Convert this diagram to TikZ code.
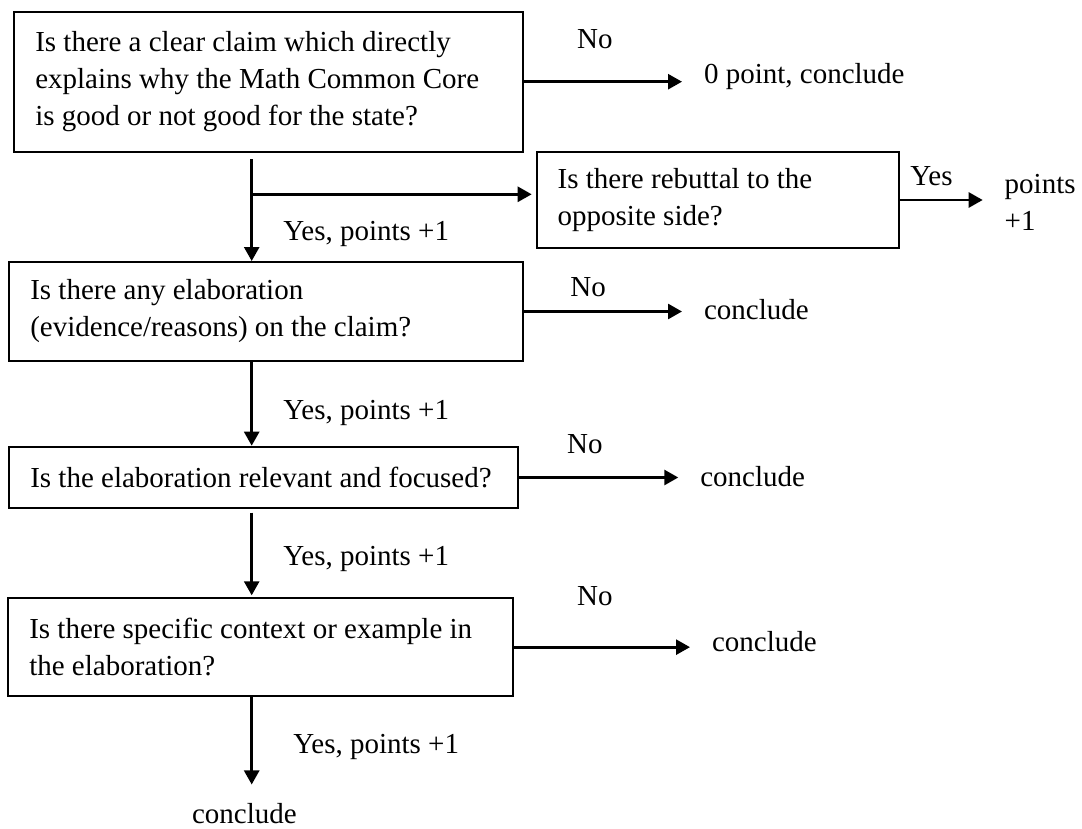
\documentclass[tikz,border=0pt]{standalone}
\usepackage{fontspec}
\setmainfont{Liberation Serif}
\usetikzlibrary{arrows.meta}

\tikzset{
  qbox/.style={draw, line width=1pt, anchor=north west, align=flush left,
    inner xsep=10.5pt, inner ysep=0pt},
  txt/.style={inner sep=0pt, anchor=base west},
  dest/.style={txt, outer xsep=11pt},
  arr/.style={line width=1.35pt, -{Triangle[length=7pt,width=7.5pt]}}
}

\begin{document}
\begin{tikzpicture}[x=0.5pt,y=-0.5pt,font=\fontsize{14.5pt}{18.5pt}\selectfont]
        \useasboundingbox (0,0) rectangle (1082,829) ;
        % the questions
        \node[qbox,text width=233.2pt,minimum height=70pt] (claim) at (13.3,10.7)
          {Is there a clear claim which directly\\explains why the Math Common Core\\is good or not good for the state?} ;
        \node[qbox,text width=160pt,minimum height=48.3pt] (rebut) at (535.7,150.7)
          {Is there rebuttal to the\\opposite side?} ;
        \node[qbox,text width=235.7pt,minimum height=49.5pt] (elab) at (8.3,261)
          {Is there any elaboration\\(evidence/reasons) on the claim?} ;
        \node[qbox,text width=233.5pt,minimum height=30.8pt] (relev) at (8.3,445.7)
          {Is the elaboration relevant and focused?} ;
        \node[qbox,text width=231.2pt,minimum height=48.85pt] (context) at (7.3,597.3)
          {Is there specific context or example in\\the elaboration?} ;
        % where the arrows lead
        \node[dest] (zero) at (682,83.3) {0 point, conclude} ;
        \node[dest,align=left] (plus) at (982.7,230) {points\\+1} ;
        \node[dest] (concB) at (682,319) {conclude} ;
        \node[dest] (concC) at (678.3,486.7) {conclude} ;
        \node[dest] (concD) at (690,651) {conclude} ;
        \node[txt] (concE) at (191.7,823) {conclude} ;
        % labels
        \node[txt] (noA) at (576.7,48.3) {No} ;
        \node[txt] (noB) at (570,296) {No} ;
        \node[txt] (noC) at (566.7,453) {No} ;
        \node[txt] (noD) at (576.7,605) {No} ;
        \node[txt] (yesR) at (910,185) {Yes} ;
        \node[txt] (yesA) at (283,241) {Yes, points +1} ;
        \node[txt] (yesB) at (283,419) {Yes, points +1} ;
        \node[txt] (yesC) at (283,565) {Yes, points +1} ;
        \node[txt] (yesD) at (293,753) {Yes, points +1} ;
        % arrows
        \coordinate (split) at (251.7,194.3) ;
        \draw[arr] (claim.east) -- (claim.east -| zero.west) ;
        \draw[arr,shorten <=3.2pt] (claim.south -| split) -- (elab.north -| split) ;
        \draw[arr,shorten >=2pt] (split) -- (rebut.west |- split) ;
        \draw[arr] (rebut.east) -- (rebut.east -| plus.west) ;
        \draw[arr] (elab.east) -- (elab.east -| concB.west) ;
        \draw[arr] (elab.south -| split) -- (relev.north -| split) ;
        \draw[arr] (relev.east) -- (relev.east -| concC.west) ;
        \draw[arr,shorten <=1.7pt,shorten >=1pt] (relev.south -| split) -- (context.north -| split) ;
        \draw[arr] (context.east) -- (context.east -| concD.west) ;
        \draw[arr,shorten >=9pt] (context.south -| split) -- (concE.north -| split) ;
\end{tikzpicture}
\end{document}
